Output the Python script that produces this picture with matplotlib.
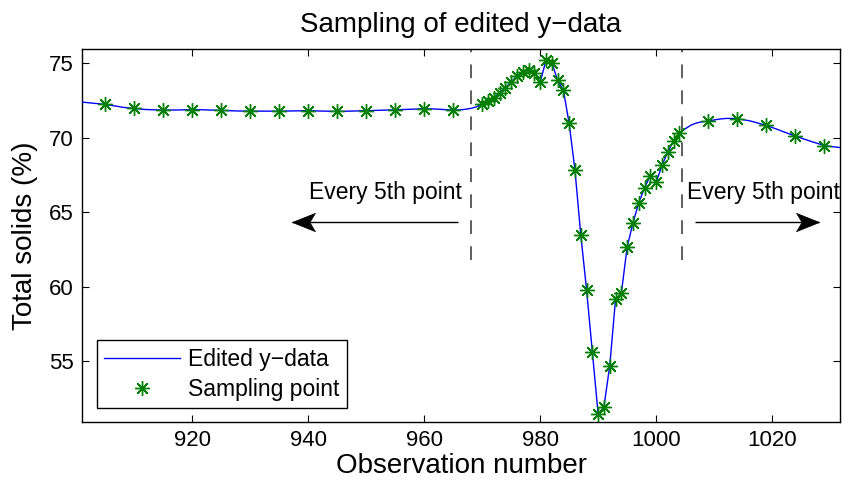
import matplotlib
matplotlib.use('Agg')
import matplotlib.pyplot as plt
from matplotlib.path import Path

plt.rcParams['font.family'] = ['Liberation Sans', 'DejaVu Sans']

# ---- data ----
line_obs = [901, 903, 905, 907, 908, 910, 912, 915, 918, 920, 922, 925, 928, 930,
            935, 940, 945, 950, 955, 960, 962, 965, 966, 967, 968, 969,
            970, 971, 972, 973, 974, 975, 976, 977, 978, 979, 980, 981, 982, 983,
            984, 985, 986, 987, 988, 989, 990, 991, 992, 993, 994, 995, 996, 997,
            998, 999, 1000, 1001, 1002, 1003, 1004, 1005, 1006, 1007, 1008, 1009,
            1010, 1011, 1012, 1013, 1014, 1016, 1017, 1019, 1021, 1022, 1024, 1026,
            1027, 1029, 1030, 1032]
line_vals = [72.40, 72.32, 72.24, 72.12, 72.05, 71.97, 71.90, 71.86, 71.87, 71.90, 71.88,
             71.84, 71.80, 71.79, 71.79, 71.82, 71.77, 71.82, 71.88, 71.95, 71.93, 71.86,
             71.87, 71.91, 71.97, 72.08,
             72.24, 72.46, 72.69, 73.03, 73.36, 73.77, 74.15, 74.42, 74.55, 74.37, 73.74,
             75.20, 75.05, 73.88, 73.20, 70.96, 67.82, 63.49, 59.79, 55.60, 51.43, 51.94,
             54.68, 59.17, 59.57, 62.66, 64.28, 65.63, 66.64, 67.46, 67.01, 68.14, 69.05,
             69.77, 70.29, 70.60, 70.85, 71.00, 71.08, 71.12, 71.20, 71.26, 71.30, 71.30,
             71.28, 71.15, 71.05, 70.83, 70.55, 70.40, 70.11, 69.85, 69.72, 69.48, 69.42,
             69.33]

sample_obs = ([905, 910, 915, 920, 925, 930, 935, 940, 945, 950, 955, 960, 965]
              + list(range(970, 1005))
              + [1009, 1014, 1019, 1024, 1029])
lookup = dict(zip(line_obs, line_vals))
sample_vals = [lookup[o] for o in sample_obs]

boundary_obs = [968.0, 1004.4]
boundary_ylow = 61.8

x_ticks = [920, 940, 960, 980, 1000, 1020]
y_ticks = [55, 60, 65, 70, 75]
x_limits = (901.0, 1031.7)
y_limits = (50.9, 76.0)

note_text = 'Every 5th point'
left_note_xy = (940.2, 66.3)
right_note_xy = (1005.3, 66.3)
left_arrow = ((965.9, 64.32), (937.2, 64.32))    # (tail, head)
right_arrow = ((1006.7, 64.32), (1028.0, 64.32))

# ---- arrowhead marker (concave back, tip at the origin, pointing right) ----
head_right = Path([(0, 0), (-1, 0.40), (-0.76, 0), (-1, -0.40), (0, 0)],
                  [Path.MOVETO, Path.LINETO, Path.LINETO, Path.LINETO, Path.CLOSEPOLY])
head_left = Path([(0, 0), (1, 0.40), (0.76, 0), (1, -0.40), (0, 0)],
                 [Path.MOVETO, Path.LINETO, Path.LINETO, Path.LINETO, Path.CLOSEPOLY])

# ---- figure ----
fig = plt.figure(figsize=(8.42, 4.88), dpi=100)
ax = fig.add_axes([82 / 842, 66 / 488, 758 / 842, 373.5 / 488])

ax.plot(line_obs, line_vals, color='#0000FF', lw=1.0, label='Edited y\u2212data', zorder=3)
ax.plot(sample_obs, sample_vals, ls='none', marker=(8, 2, 0), ms=10.5,
        mec='#008000', mfc='none', mew=1.0, label='Sampling point', zorder=4)

for bx in boundary_obs:
    ax.plot([bx, bx], [boundary_ylow, y_limits[1]], color='#333333', lw=1.1,
            dashes=(9, 8), zorder=2)

for (tail, head), hp in ((left_arrow, head_left), (right_arrow, head_right)):
    ax.plot([tail[0], head[0]], [tail[1], head[1]], color='k', lw=1.0,
            solid_capstyle='butt', zorder=3)
    ax.plot([head[0]], [head[1]], ls='none', marker=hp, ms=33, mfc='k', mec='k',
            mew=0.5, zorder=3)

ax.text(left_note_xy[0], left_note_xy[1], note_text, fontsize=16.5, ha='left', va='center')
ax.text(right_note_xy[0], right_note_xy[1], note_text, fontsize=16.5, ha='left',
        va='center', clip_on=False)

ax.set_xlim(*x_limits)
ax.set_ylim(*y_limits)
ax.set_xticks(x_ticks)
ax.set_yticks(y_ticks)
ax.tick_params(direction='in', length=5, width=0.8, top=True, right=True,
               labelsize=16, pad=6)
for sp in ax.spines.values():
    sp.set_linewidth(1.0)

ax.set_title('Sampling of edited y\u2212data', fontsize=20, pad=12)
ax.set_xlabel('Observation number', fontsize=20, labelpad=1)
ax.set_ylabel('Total solids (%)', fontsize=20, labelpad=8)

leg = ax.legend(loc='lower left', bbox_to_anchor=(0.0194, 0.0367), borderaxespad=0,
                fontsize=16.5, frameon=True, fancybox=False, edgecolor='black',
                framealpha=1, borderpad=0.33, handlelength=3.3, handletextpad=0.35,
                labelspacing=0.3)
leg.get_frame().set_linewidth(1.0)

fig.savefig('out.png', dpi=100)
